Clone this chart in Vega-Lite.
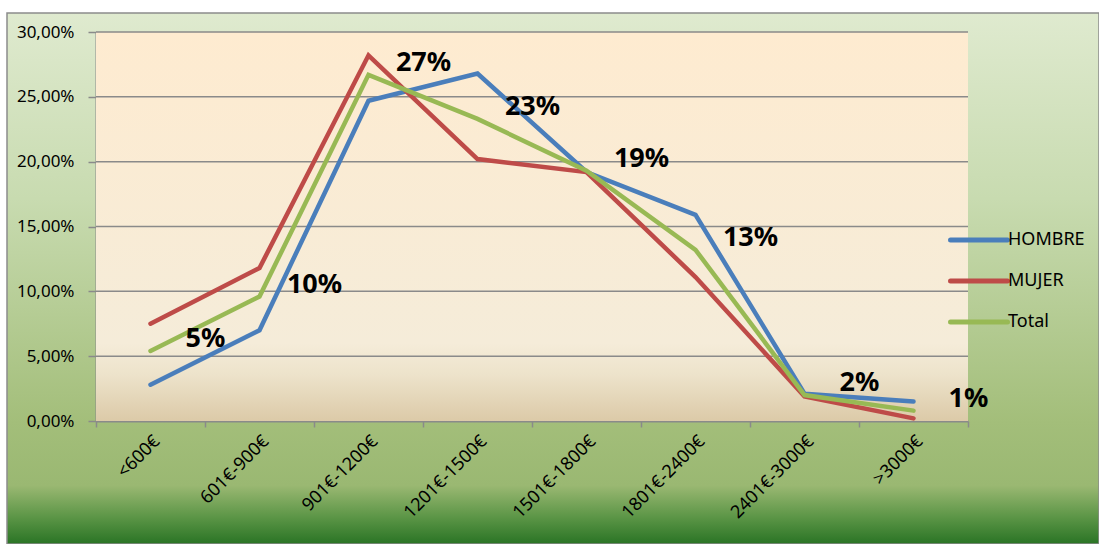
{
  "$schema": "https://vega.github.io/schema/vega-lite/v6.json",
  "width": 1092,
  "height": 531,
  "autosize": {"type": "none"},
  "padding": {"left": 7, "top": 13, "right": 0, "bottom": 0},
  "background": "#ffffff",
  "view": {
    "fill": {
      "gradient": "linear", "x1": 0, "y1": 0, "x2": 0, "y2": 1,
      "stops": [
        {"offset": 0, "color": "#dfeacf"},
        {"offset": 0.35, "color": "#c8dbb0"},
        {"offset": 0.77, "color": "#a3be7a"},
        {"offset": 0.89, "color": "#9ab872"},
        {"offset": 0.95, "color": "#5b9546"},
        {"offset": 1, "color": "#2a7425"}
      ]
    },
    "stroke": "#8c8c8c",
    "strokeWidth": 1.5
  },
  "config": {
    "locale": {"number": {"decimal": ",", "thousands": ".", "grouping": [3], "currency": ["", " €"]}},
    "font": "Noto Sans"
  },
  "datasets": {
    "ingresos": [
      {"rango": "<600€", "serie": "HOMBRE", "valor": 0.028},
      {"rango": "601€-900€", "serie": "HOMBRE", "valor": 0.070},
      {"rango": "901€-1200€", "serie": "HOMBRE", "valor": 0.247},
      {"rango": "1201€-1500€", "serie": "HOMBRE", "valor": 0.268},
      {"rango": "1501€-1800€", "serie": "HOMBRE", "valor": 0.192},
      {"rango": "1801€-2400€", "serie": "HOMBRE", "valor": 0.159},
      {"rango": "2401€-3000€", "serie": "HOMBRE", "valor": 0.021},
      {"rango": ">3000€", "serie": "HOMBRE", "valor": 0.015},
      {"rango": "<600€", "serie": "MUJER", "valor": 0.075},
      {"rango": "601€-900€", "serie": "MUJER", "valor": 0.118},
      {"rango": "901€-1200€", "serie": "MUJER", "valor": 0.282},
      {"rango": "1201€-1500€", "serie": "MUJER", "valor": 0.202},
      {"rango": "1501€-1800€", "serie": "MUJER", "valor": 0.192},
      {"rango": "1801€-2400€", "serie": "MUJER", "valor": 0.111},
      {"rango": "2401€-3000€", "serie": "MUJER", "valor": 0.019},
      {"rango": ">3000€", "serie": "MUJER", "valor": 0.002},
      {"rango": "<600€", "serie": "Total", "valor": 0.054},
      {"rango": "601€-900€", "serie": "Total", "valor": 0.096},
      {"rango": "901€-1200€", "serie": "Total", "valor": 0.267},
      {"rango": "1201€-1500€", "serie": "Total", "valor": 0.233},
      {"rango": "1501€-1800€", "serie": "Total", "valor": 0.193},
      {"rango": "1801€-2400€", "serie": "Total", "valor": 0.132},
      {"rango": "2401€-3000€", "serie": "Total", "valor": 0.020},
      {"rango": ">3000€", "serie": "Total", "valor": 0.008}
    ],
    "etiquetas": [
      {"rango": "<600€", "valor": 0.054, "etiqueta": "5%"},
      {"rango": "601€-900€", "valor": 0.096, "etiqueta": "10%"},
      {"rango": "901€-1200€", "valor": 0.267, "etiqueta": "27%"},
      {"rango": "1201€-1500€", "valor": 0.233, "etiqueta": "23%"},
      {"rango": "1501€-1800€", "valor": 0.193, "etiqueta": "19%"},
      {"rango": "1801€-2400€", "valor": 0.132, "etiqueta": "13%"},
      {"rango": "2401€-3000€", "valor": 0.020, "etiqueta": "2%"},
      {"rango": ">3000€", "valor": 0.008, "etiqueta": "1%"}
    ],
    "rejilla": [
      {"v": 0.05}, {"v": 0.10}, {"v": 0.15}, {"v": 0.20}, {"v": 0.25}, {"v": 0.30}
    ]
  },
  "resolve": {"scale": {"x": "independent"}},
  "layer": [
    {
      "layer": [
        {
          "data": {"values": [{"zona": "área de trazado"}]},
          "mark": {
            "type": "rect",
            "fill": {
              "gradient": "linear", "x1": 0, "y1": 0, "x2": 0, "y2": 1,
              "stops": [
                {"offset": 0, "color": "#feebd0"},
                {"offset": 0.8, "color": "#f5ecd9"},
                {"offset": 0.88, "color": "#ede3cb"},
                {"offset": 1, "color": "#dccaa8"}
              ]
            }
          },
          "encoding": {
            "x": {"datum": 0, "type": "quantitative", "scale": {"domain": [0, 1], "range": [89, 961]}, "axis": null},
            "x2": {"datum": 1},
            "y": {"datum": 0.3, "type": "quantitative", "scale": {"domain": [0, 0.3], "range": [408, 19], "nice": false}},
            "y2": {"datum": 0}
          }
        },
        {
          "data": {"name": "rejilla"},
          "mark": {"type": "rule", "color": "#8a8a8a", "strokeWidth": 1.5},
          "encoding": {
            "y": {"field": "v", "type": "quantitative"},
            "x": {"datum": 0, "type": "quantitative"},
            "x2": {"datum": 1}
          }
        }
      ]
    },
    {
      "layer": [
        {
          "data": {"name": "ingresos"},
          "mark": {"type": "line", "strokeWidth": 4.5, "strokeCap": "round", "strokeJoin": "miter"},
          "encoding": {
            "x": {
              "field": "rango", "type": "nominal",
              "sort": ["<600€", "601€-900€", "901€-1200€", "1201€-1500€", "1501€-1800€", "1801€-2400€", "2401€-3000€", ">3000€"],
              "scale": {"type": "band", "range": [89, 961], "paddingInner": 0, "paddingOuter": 0},
              "axis": {
                "orient": "bottom", "offset": -123, "title": null,
                "tickBand": "extent", "tickSize": 6, "tickColor": "#8a8a8a", "tickWidth": 1.5,
                "domainColor": "#8a8a8a", "domainWidth": 2,
                "labelAngle": -45, "labelFontSize": 18, "labelPadding": 5, "labelColor": "#000000", "labelFont": "Noto Sans"
              }
            },
            "y": {
              "field": "valor", "type": "quantitative",
              "axis": {
                "orient": "left", "offset": -89, "title": null, "grid": false,
                "values": [0, 0.05, 0.1, 0.15, 0.2, 0.25, 0.3], "format": ".2%",
                "tickSize": 8, "tickColor": "#8a8a8a", "tickWidth": 1.5,
                "domainColor": "#8a8a8a", "domainWidth": 2,
                "labelFontSize": 17, "labelPadding": 14, "labelColor": "#000000", "labelFont": "Noto Sans"
              }
            },
            "color": {
              "field": "serie", "type": "nominal",
              "scale": {"domain": ["HOMBRE", "MUJER", "Total"], "range": ["#4a7ebb", "#be4b48", "#98b954"]},
              "legend": {
                "orient": "none", "legendX": 941, "legendY": 196, "title": null,
                "symbolType": "stroke", "symbolSize": 3249, "symbolStrokeWidth": 5,
                "labelFontSize": 18, "labelFont": "Noto Sans", "labelColor": "#000000",
                "rowPadding": -20, "labelOffset": -2, "padding": 0,
                "encode": {"symbols": {"update": {"strokeCap": {"value": "round"}}}}
              }
            }
          }
        },
        {
          "data": {"name": "etiquetas"},
          "mark": {"type": "text", "dx": 55, "dy": -12, "fontSize": 27, "fontWeight": "bold", "color": "#000000", "font": "Noto Sans"},
          "encoding": {
            "x": {"field": "rango", "type": "nominal", "sort": ["<600€", "601€-900€", "901€-1200€", "1201€-1500€", "1501€-1800€", "1801€-2400€", "2401€-3000€", ">3000€"]},
            "y": {"field": "valor", "type": "quantitative"},
            "text": {"field": "etiqueta"}
          }
        }
      ]
    }
  ]
}
